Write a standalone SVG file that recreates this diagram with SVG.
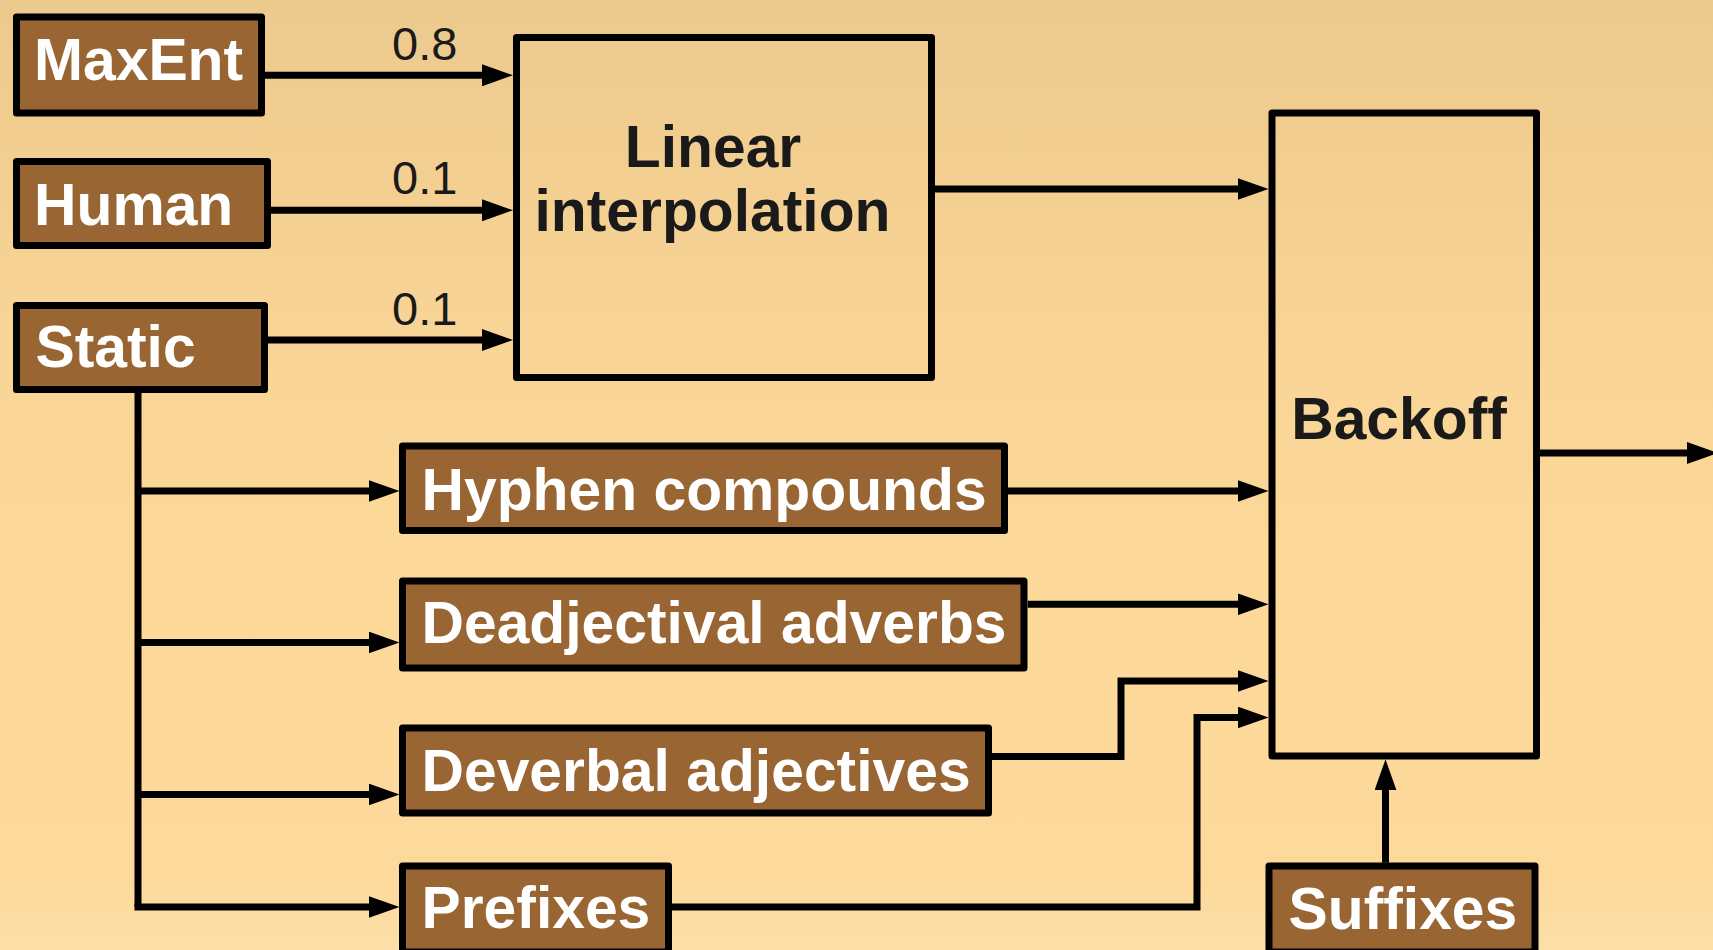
<svg xmlns="http://www.w3.org/2000/svg" width="1713" height="950" viewBox="0 0 1713 950">
  <defs>
    <linearGradient id="bg" x1="0" y1="0" x2="0" y2="1">
      <stop offset="0" stop-color="#ECC98C"/>
      <stop offset="0.35" stop-color="#F8D596"/>
      <stop offset="0.6" stop-color="#FCD899"/>
      <stop offset="0.93" stop-color="#FDD99B"/>
      <stop offset="1" stop-color="#FCE0A8"/>
    </linearGradient>
    <marker id="arrow" markerUnits="userSpaceOnUse" markerWidth="31" markerHeight="22" refX="15" refY="11" orient="auto">
      <path d="M0,0 L31,11 L0,22 Z" fill="#000"/>
    </marker>
    <style>
      .src rect { fill: #996633; stroke: #000; stroke-width: 7; stroke-linejoin: round; }
      .blk rect { fill: none; stroke: #000; stroke-width: 7; stroke-linejoin: round; }
      .src text { font-family: "Liberation Sans", Arial, sans-serif; font-weight: bold; font-size: 58.8px; fill: #fff; }
      .blk text { font-family: "Liberation Sans", Arial, sans-serif; font-weight: bold; font-size: 58.8px; fill: #1a1a1a; text-anchor: middle; }
      .wt { font-family: "Liberation Sans", Arial, sans-serif; font-size: 47px; fill: #1a1a1a; }
      #connectors path { fill: none; stroke: #000; stroke-width: 7; stroke-linejoin: miter; }
      #connectors .arr { marker-end: url(#arrow); }
    </style>
  </defs>

  <rect x="0" y="0" width="1713" height="950" fill="url(#bg)"/>

  <!-- connectors -->
  <g id="connectors">
    <path class="arr" d="M265 75.3 H497"/>
    <path class="arr" d="M271 210.3 H497"/>
    <path class="arr" d="M268 340 H497"/>
    <path class="arr" d="M935 189 H1252.5"/>
    <!-- Static feeds the rule-based modules -->
    <path d="M138 393 V907"/>
    <path class="arr" d="M138 491 H383.5"/>
    <path class="arr" d="M138 642.5 H383.5"/>
    <path class="arr" d="M138 794.5 H383.5"/>
    <path class="arr" d="M134.5 907 H383.5"/>
    <!-- modules into backoff -->
    <path class="arr" d="M1007.7 491 H1252.5"/>
    <path class="arr" d="M1027.7 604.3 H1252.5"/>
    <path class="arr" d="M991.7 756.5 H1121 V681 H1252.5"/>
    <path class="arr" d="M672 907 H1197 V717.5 H1252.5"/>
    <path class="arr" d="M1385.5 862.7 V775.3"/>
    <path class="arr" d="M1540 453 H1702"/>
  </g>

  <!-- weights -->
  <g id="weights">
    <text class="wt" x="392" y="60">0.8</text>
    <text class="wt" x="392" y="194">0.1</text>
    <text class="wt" x="392" y="325">0.1</text>
  </g>

  <g id="maxent" class="src">
    <rect x="16.5" y="17" width="245" height="96"/>
    <text x="34" y="80">MaxEnt</text>
  </g>
  <g id="human" class="src">
    <rect x="16.5" y="161.5" width="251" height="84"/>
    <text x="34" y="225">Human</text>
  </g>
  <g id="static" class="src">
    <rect x="16.5" y="305.5" width="248" height="84"/>
    <text x="35.5" y="367">Static</text>
  </g>

  <g id="linear-interpolation" class="blk">
    <rect x="516.5" y="37.5" width="415" height="340"/>
    <text x="713" y="167">Linear</text>
    <text x="712.5" y="231">interpolation</text>
  </g>

  <g id="backoff" class="blk">
    <rect x="1272" y="113" width="264.5" height="643"/>
    <text x="1399" y="439">Backoff</text>
  </g>

  <g id="hyphen-compounds" class="src">
    <rect x="402.5" y="446" width="602" height="84.5"/>
    <text x="421.5" y="510">Hyphen compounds</text>
  </g>
  <g id="deadjectival-adverbs" class="src">
    <rect x="402.5" y="581" width="621.5" height="87"/>
    <text x="421.5" y="643">Deadjectival adverbs</text>
  </g>
  <g id="deverbal-adjectives" class="src">
    <rect x="402.5" y="728" width="586" height="85"/>
    <text x="421.5" y="791">Deverbal adjectives</text>
  </g>
  <g id="prefixes" class="src">
    <rect x="402.5" y="866" width="266" height="86"/>
    <text x="421.5" y="928">Prefixes</text>
  </g>
  <g id="suffixes" class="src">
    <rect x="1269" y="866" width="266" height="86"/>
    <text x="1288.5" y="929">Suffixes</text>
  </g>
</svg>
